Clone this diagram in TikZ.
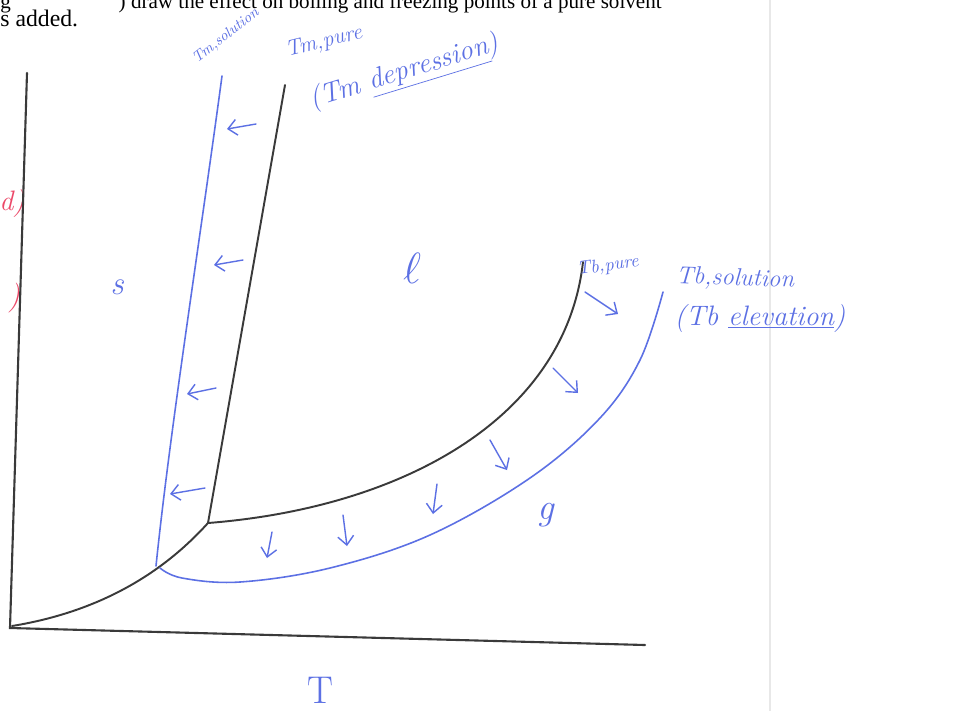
\documentclass[tikz,border=0pt]{standalone}
\usepackage{fontspec}
\newfontfamily\timesfont{Liberation Serif}
\usetikzlibrary{arrows.meta}
\definecolor{pen}{RGB}{92,112,228}
\definecolor{redpen}{RGB}{236,72,104}
\definecolor{graphink}{RGB}{58,58,58}
\definecolor{pageedge}{RGB}{232,232,232}
\begin{document}
\begin{tikzpicture}[x=0.02cm,y=-0.02cm,
  axisline/.style={draw=graphink,line width=1.2pt,line cap=round},
  phaseline/.style={draw=graphink,line width=1.1pt,line cap=round},
  penline/.style={draw=pen,line width=0.9pt,line cap=round},
  penarrow/.style={draw=pen,line width=0.8pt,line cap=round,-{Straight Barb[length=5pt,width=9pt]}},
  hand/.style={text=pen,inner sep=0pt},
  printed/.style={text=black,inner sep=0pt},
]
\useasboundingbox (0,0) rectangle (953,711);
\clip (0,0) rectangle (953,711);
\fill[white] (0,0) rectangle (953,711);
% page edge
\draw[pageedge,line width=0.6pt] (770,0) -- (770,711);
% printed question text
\node[printed,anchor=base east,font=\timesfont\fontsize{12}{14}\selectfont] (qline1) at (662,8) {) draw the effect on boiling and freezing points of a pure solvent};
\node[printed,anchor=base west,font=\timesfont\fontsize{12}{14}\selectfont] (qg) at (0,8) {g};
\node[printed,anchor=base west,font=\timesfont\fontsize{13.5}{15}\selectfont] (qline2) at (0,26) {s added.};
% red fragments on the left
\node[text=redpen,inner sep=0pt,font=\itshape\fontsize{16}{18}\selectfont] (redA) at (12,203) {d)};
\node[text=redpen,inner sep=0pt,font=\itshape\fontsize{17}{19}\selectfont] (redB) at (14,298) {)};
% axes
\coordinate (origin) at (10,628);
\coordinate (ytop) at (27,73);
\coordinate (xend) at (645,645);
\draw[axisline] (ytop) -- (origin) -- (xend);
% pure solvent phase boundaries
\coordinate (triple) at (208,523);
\coordinate (tmpure) at (285,85);
\coordinate (tbpure) at (583,262);
\draw[phaseline] (12,626) .. controls (110,610) and (170,565) .. (triple);
\draw[phaseline] (triple) -- (tmpure);
\draw[phaseline] (triple) .. controls (400,508) and (565,420) .. (tbpure);
% solution boundaries
\coordinate (tmsol) at (222,76);
\coordinate (solbot) at (156,566);
\draw[penline] (tmsol) .. controls (200,240) and (170,430) .. (solbot);
\draw[penline] plot[smooth,tension=0.6] coordinates {(160,568) (182,578) (240,582) (330,568) (430,535) (530,478) (600,418) (640,360) (663,292)};
% arrows: melting point depression
\draw[penarrow] (256,124) -- (227,129);
\draw[penarrow] (243,260) -- (214,265);
\draw[penarrow] (216,388) -- (187,394);
\draw[penarrow] (205,488) -- (170,494);
% arrows: boiling point elevation
\draw[penarrow] (272,532) -- (267,558);
\draw[penarrow] (343,515) -- (347,546);
\draw[penarrow] (437,484) -- (433,514);
\draw[penarrow] (490,440) -- (507,470);
\draw[penarrow] (553,368) -- (578,393);
\draw[penarrow] (585,292) -- (618,314);
% labels
\node[hand,rotate=38,font=\itshape\fontsize{8.5}{9}\selectfont] (lblTmsol) at (226,36) {Tm,solution};
\node[hand,rotate=14,font=\itshape\fontsize{12.5}{14}\selectfont] (lblTmpure) at (324,42) {Tm,pure};
\node[hand,rotate=17,font=\itshape\fontsize{16}{18}\selectfont] (lblTmdep) at (405,73) {(Tm \underline{depression})};
\node[hand,rotate=8,font=\itshape\fontsize{10.5}{12}\selectfont] (lblTbpure) at (608,266) {Tb,pure};
\node[hand,rotate=-2,font=\itshape\fontsize{14}{16}\selectfont] (lblTbsol) at (735,279) {Tb,solution};
\node[hand,font=\itshape\fontsize{16}{18}\selectfont] (lblTbel) at (760,318) {(Tb \underline{elevation})};
\node[hand,font=\itshape\fontsize{19}{21}\selectfont] (lblS) at (117,287) {s};
\node[hand,font=\fontsize{24}{26}\selectfont] (lblL) at (412,268) {$\ell$};
\node[hand,font=\itshape\fontsize{21}{23}\selectfont] (lblG) at (546,515) {g};
\node[hand,font=\fontsize{22}{24}\selectfont] (lblT) at (320,690) {T};
\end{tikzpicture}
\end{document}
